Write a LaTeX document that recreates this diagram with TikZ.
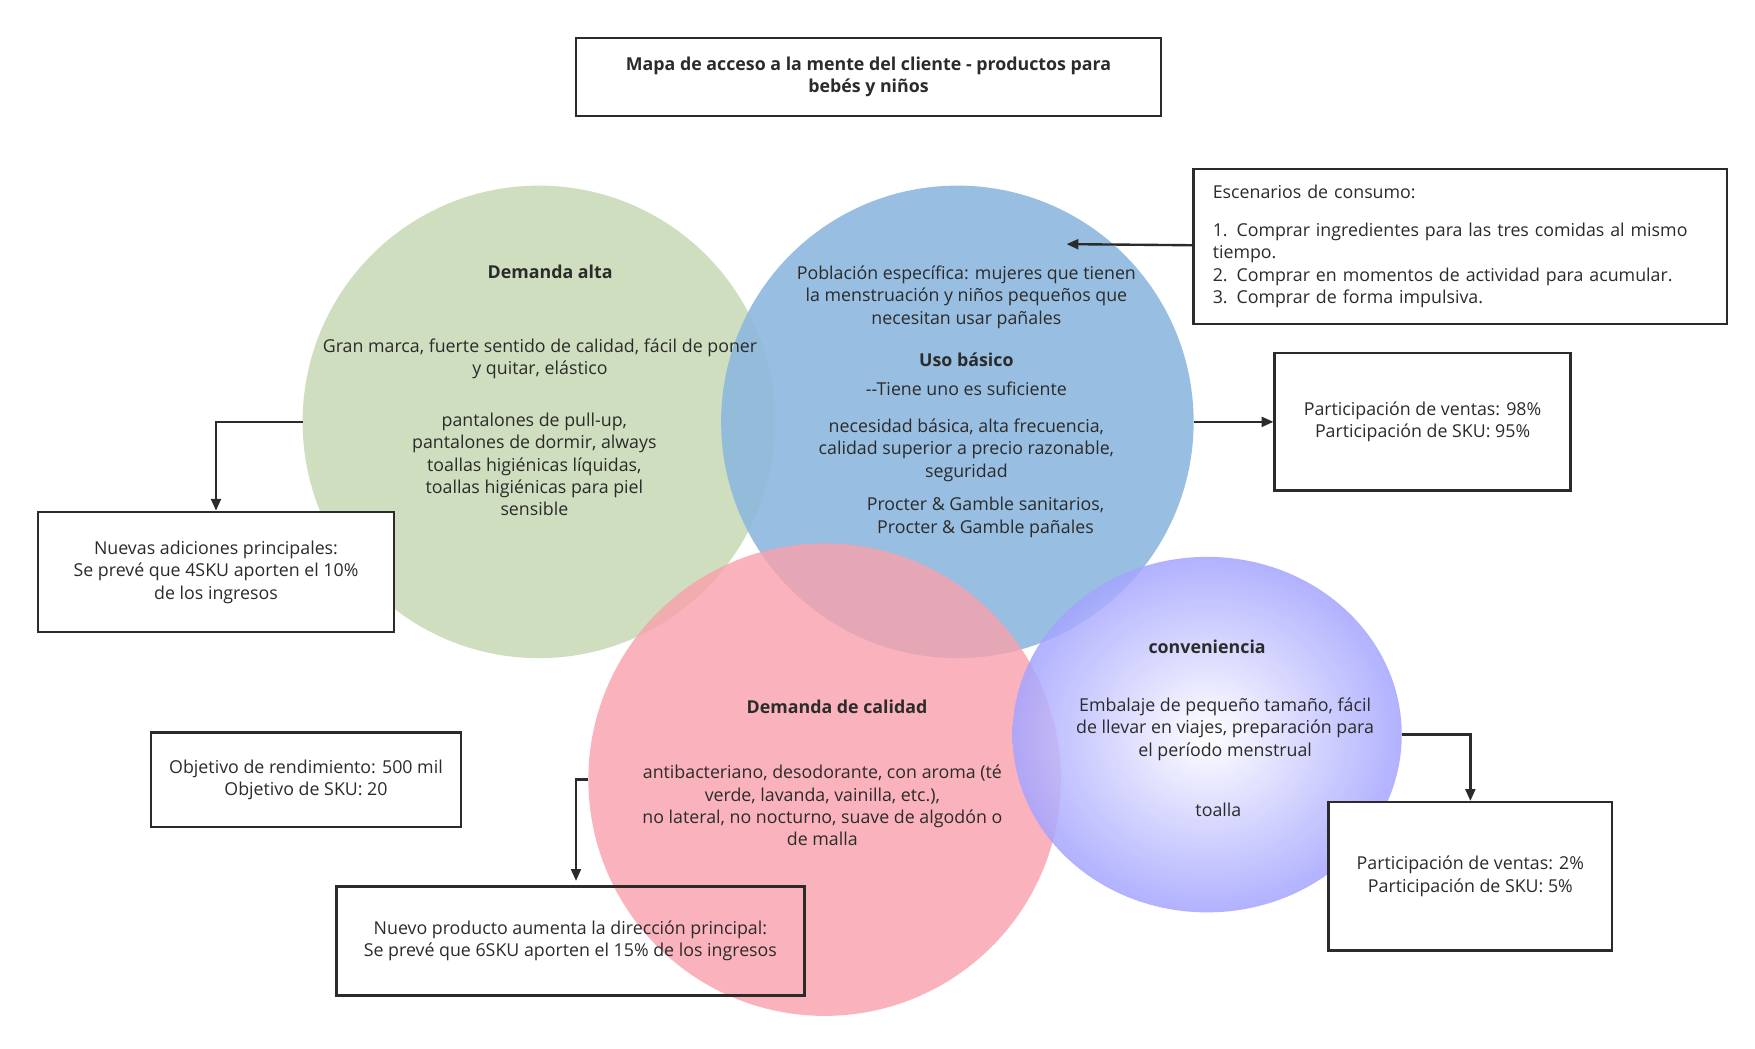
\documentclass[tikz,border=0pt]{standalone}
\usepackage{fontspec}
\setmainfont{Open Sans}
\usetikzlibrary{arrows.meta}
\definecolor{cgreen}{HTML}{CFDEBE}
\definecolor{cblue}{HTML}{8DB8DE}
\definecolor{cpink}{HTML}{F9A0AC}
\definecolor{cpurp}{HTML}{A4A4FF}
\definecolor{ink}{HTML}{2B2B2B}
\begin{document}
\begin{tikzpicture}[x=0.02cm,y=-0.02cm,
  every node/.style={font=\fontsize{9}{11.3}\selectfont, text=ink, align=center},
  bold/.style={font=\fontsize{9}{11.3}\selectfont\bfseries},
  box/.style={draw=ink, line width=1.2pt, fill=white},
  conn/.style={draw=ink, line width=1.2pt, -{Triangle[length=6pt,width=5pt]}}]
\useasboundingbox (0,0) rectangle (1560,932);
\fill[white] (0,0) rectangle (1560,932);
% circles
\fill[cgreen] (479,375) circle (210);
\fill[cblue, fill opacity=0.9] (851,375) circle (210);
\fill[cpink, fill opacity=0.8] (733,693) circle (210);
\shade[inner color=white, outer color=cpurp, opacity=0.85] (1073,653) ellipse (173 and 158);
\path (479,375) coordinate (gc) (269,375) coordinate (gl)
      (851,375) coordinate (bc) (1061,375) coordinate (br) (948,217) coordinate (bin)
      (523,693) coordinate (pl) (1246,653) coordinate (ur);
% title
\node[box, bold, minimum width=520*0.02cm, minimum height=69*0.02cm] (title) at (772,68.5) {Mapa de acceso a la mente del cliente - productos para\\bebés y niños};
% boxes
\node[box, minimum width=474*0.02cm, minimum height=138*0.02cm, align=left, text width=440*0.02cm] (esc) at (1298,219) {Escenarios de consumo:\\[8pt]1. Comprar ingredientes para las tres comidas al mismo tiempo.\\2. Comprar en momentos de actividad para acumular.\\3. Comprar de forma impulsiva.};
\node[box, minimum width=263*0.02cm, minimum height=122*0.02cm] (v98) at (1264.5,375) {Participación de ventas: 98\%\\Participación de SKU: 95\%};
\node[box, minimum width=316*0.02cm, minimum height=107*0.02cm] (nad) at (192,508.5) {Nuevas adiciones principales:\\Se prevé que 4SKU aporten el 10\%\\de los ingresos};
\node[box, minimum width=276*0.02cm, minimum height=84*0.02cm] (obj) at (272,693) {Objetivo de rendimiento: 500 mil\\Objetivo de SKU: 20};
\node[box, minimum width=252*0.02cm, minimum height=132*0.02cm] (v2) at (1307,779) {Participación de ventas: 2\%\\Participación de SKU: 5\%};
% circle texts
\node[bold] at (489,242) {Demanda alta};
\node at (480,319) {Gran marca, fuerte sentido de calidad, fácil de poner\\y quitar, elástico};
\node at (475,413) {pantalones de pull-up,\\pantalones de dormir, always\\toallas higiénicas líquidas,\\toallas higiénicas para piel\\sensible};
\node at (859,264) {Población específica: mujeres que tienen\\la menstruación y niños pequeños que\\necesitan usar pañales};
\node[bold] at (859,320) {Uso básico};
\node at (859,346) {-{}-Tiene uno es suficiente};
\node at (859,400) {necesidad básica, alta frecuencia,\\calidad superior a precio razonable,\\seguridad};
\node at (876,460) {Procter \& Gamble sanitarios,\\Procter \& Gamble pañales};
\node[bold] at (744,628) {Demanda de calidad};
\node at (731,716) {antibacteriano, desodorante, con aroma (té\\verde, lavanda, vainilla, etc.),\\no lateral, no nocturno, suave de algodón o\\de malla};
\node[bold] at (1073,575) {conveniencia};
\node at (1089,648) {Embalaje de pequeño tamaño, fácil\\de llevar en viajes, preparación para\\el período menstrual};
\node at (1083,720) {toalla};
\node[box, fill=none, minimum width=416*0.02cm, minimum height=97*0.02cm] (np) at (507,836.5) {Nuevo producto aumenta la dirección principal:\\Se prevé que 6SKU aporten el 15\% de los ingresos};
% connectors
\draw[conn] (esc.west |- 0,218) -- (bin);
\draw[conn] (br) -- (v98.west);
\draw[conn] (gl) -- (192,375) -- (nad.north);
\draw[conn] (pl) -- (512,693) -- (512,783);
\draw[conn] (ur) -- (1307,653) -- (v2.north);
\end{tikzpicture}
\end{document}
